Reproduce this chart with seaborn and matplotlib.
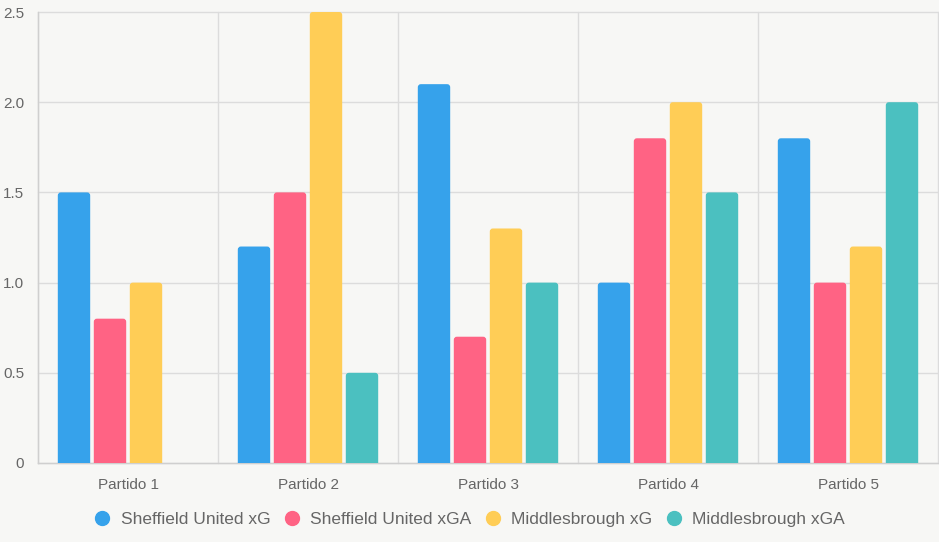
import numpy as np
import pandas as pd
import matplotlib.pyplot as plt
import seaborn as sns
from matplotlib.lines import Line2D
from matplotlib.patches import FancyBboxPatch

partidos = ["Partido 1", "Partido 2", "Partido 3", "Partido 4", "Partido 5"]
series = ["Sheffield United xG", "Sheffield United xGA", "Middlesbrough xG", "Middlesbrough xGA"]
sheffield_xg = [1.5, 1.2, 2.1, 1.0, 1.8]
sheffield_xga = [0.8, 1.5, 0.7, 1.8, 1.0]
boro_xg = [1.0, 2.5, 1.3, 2.0, 1.2]
boro_xga = [0.0, 0.5, 1.0, 1.5, 2.0]
colors = ["#36A2EB", "#FF6384", "#FFCD56", "#4BC0C0"]

rows = []
for name, vals in zip(series, [sheffield_xg, sheffield_xga, boro_xg, boro_xga]):
    for p, v in zip(partidos, vals):
        rows.append({"partido": p, "serie": name, "valor": v})
df = pd.DataFrame(rows)

bg = "#f7f7f5"
sns.set_style("white", {"axes.facecolor": bg, "figure.facecolor": bg})
plt.rcParams["font.family"] = ["Liberation Sans", "DejaVu Sans"]

fig = plt.figure(figsize=(9.39, 5.42), dpi=100)
ax = fig.add_axes([38 / 939, 79 / 542, 900 / 939, 451 / 542])

sns.barplot(data=df, x="partido", y="valor", hue="serie", hue_order=series,
            palette=colors, width=0.8, gap=0.1, saturation=1, ax=ax,
            legend=False, errorbar=None, zorder=3)

# rounded top corners like the original (bottom hidden below the axis)
r = 0.017
for p in list(ax.patches):
    x, y, w, h = p.get_x(), p.get_y(), p.get_width(), p.get_height()
    fc = p.get_facecolor()
    p.remove()
    if h <= 0:
        continue
    ax.add_patch(FancyBboxPatch((x, y - r), w, h + r,
                                boxstyle=f"round,pad=0,rounding_size={r}",
                                mutation_aspect=1, fc=fc, ec="none", zorder=3))

ax.set_xlim(-0.5, 4.5)
ax.set_ylim(0, 2.5)
ax.set_yticks([0, 0.5, 1.0, 1.5, 2.0, 2.5])
ax.set_yticklabels(["0", "0.5", "1.0", "1.5", "2.0", "2.5"])
ax.set_xticks(range(len(partidos)))
ax.set_xticklabels(partidos)
ax.set_xticks(np.arange(-0.5, 5.0, 1.0), minor=True)
ax.set_xlabel("")
ax.set_ylabel("")

grid_c = "#dcdcdc"
ax.tick_params(axis="x", which="major", length=0, pad=11, labelsize=11, labelcolor="#666666")
ax.tick_params(axis="x", which="minor", length=7, width=1, color=grid_c)
ax.tick_params(axis="y", length=7, width=1, color=grid_c, pad=3, labelsize=11, labelcolor="#666666")
ax.grid(axis="y", color=grid_c, linewidth=1, zorder=0)
ax.grid(axis="x", which="minor", color=grid_c, linewidth=1, zorder=0)
for s in ["top", "right"]:
    ax.spines[s].set_visible(False)
for s in ["left", "bottom"]:
    ax.spines[s].set_color("#cfcfcf")
    ax.spines[s].set_linewidth(1)
for t in ax.yaxis.get_major_ticks() + ax.xaxis.get_minor_ticks():
    t.gridline.set_clip_on(False)

handles = [Line2D([], [], marker="o", linestyle="", markersize=10,
                  markerfacecolor=c, markeredgecolor=c) for c in colors]
fig.legend(handles, series, loc="center", bbox_to_anchor=(0.5, 23 / 542), ncol=4,
           frameon=False, fontsize=12.5, labelcolor="#666666",
           handletextpad=0.55, columnspacing=0.75, handlelength=1.0)

fig.savefig("out.png", dpi=100, facecolor=bg)
